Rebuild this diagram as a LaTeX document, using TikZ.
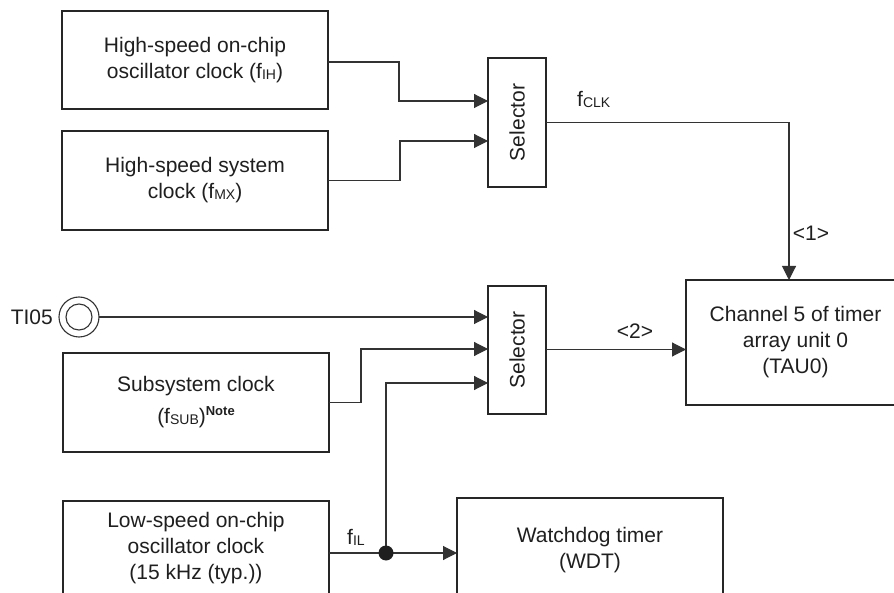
\documentclass[tikz,border=0pt]{standalone}
\usepackage{fontspec}
\setmainfont{Liberation Sans}
\usetikzlibrary{arrows.meta}
\newcommand\fsub[1]{\raisebox{-1pt}{\fontsize{14}{14}\selectfont #1}}
\newcommand\notesup[1]{\raisebox{8pt}{\fontsize{13}{13}\selectfont\bfseries #1}}
\begin{document}
\begin{tikzpicture}[x=1pt,y=-1pt,
  font=\fontsize{21}{26}\selectfont,
  every node/.style={text=black!88},
  blk/.style={draw=black!85, line width=2.2pt, inner sep=0pt, outer sep=0pt, align=center},
  ln/.style={draw=black!80, line width=1.1pt},
  arr/.style={ln, -{Triangle[length=14pt,width=14pt]}},
  lbl/.style={inner sep=0pt}]
\clip (0,0) rectangle (894,593);
\fill[white] (0,0) rectangle (894,593);

% blocks
\node[blk, minimum width=266pt, minimum height=98pt] (hoco) at (195,60)
  {High-speed on-chip\\oscillator clock (f\fsub{IH})};
\node[blk, minimum width=266pt, minimum height=99pt] (hsys) at (195,180.5)
  {High-speed system\\clock (f\fsub{MX})};
\node[blk, minimum width=266pt, minimum height=99pt] (sub) at (196,402.5)
  {Subsystem clock\\[6pt](f\fsub{SUB})\notesup{Note}};
\node[blk, minimum width=266pt, minimum height=95pt] (low) at (196,548.5)
  {Low-speed on-chip\\oscillator clock\\(15 kHz (typ.))};
\node[blk, minimum width=58pt, minimum height=129pt] (sel1) at (517,122.5)
  {\rotatebox{90}{Selector}};
\node[blk, minimum width=58pt, minimum height=128pt] (sel2) at (517,350)
  {\rotatebox{90}{Selector}};
\node[blk, minimum width=219pt, minimum height=125pt] (tau) at (795.5,342.5)
  {Channel 5 of timer\\array unit 0\\(TAU0)};
\node[blk, minimum width=266pt, minimum height=104pt] (wdt) at (590,550)
  {Watchdog timer\\(WDT)};

% TI05 pin
\node[circle, ln, minimum size=40pt, inner sep=0pt, outer sep=0pt] (ti) at (79,317) {};
\draw[ln] (ti.center) circle (13pt);
\node[lbl, anchor=east] (tilbl) at (53,317) {TI05};

% selector inputs
\coordinate (in11) at (488,101);
\coordinate (in12) at (488,141);
\coordinate (in21) at (488,317);
\coordinate (in22) at (488,349);
\coordinate (in23) at (488,383);
\coordinate (jn) at (386,553);

\draw[arr] ([yshift=-2pt]hoco.east) -- ++(71,0) |- (in11);
\draw[arr] (hsys.east) -- ++(72,0) |- (in12);
\draw[arr] (ti.east) -- (in21);
\draw[arr] (sub.east) -- ++(32,0) |- (in22);
\draw[ln] ([yshift=-4.5pt]low.east) -- (jn);
\draw[arr] (jn) -- (wdt.west |- jn);
\draw[arr] (jn) |- (in23);
\fill[black!88] (jn) circle (7.5pt);

% selector outputs
\draw[arr] (sel1.east) -| ([xshift=-6.5pt]tau.north);
\draw[arr] ([yshift=0.5pt]sel2.east) -- ([yshift=0.5pt]sel2.east -| tau.west);

% labels
\node[lbl, anchor=base west] (fclk) at (577,107) {f\fsub{CLK}};
\node[lbl] (l1) at (811,233) {<1>};
\node[lbl] (l2) at (635,331) {<2>};
\node[lbl] (fil) at (356,537) {f\fsub{IL}};
\end{tikzpicture}
\end{document}
